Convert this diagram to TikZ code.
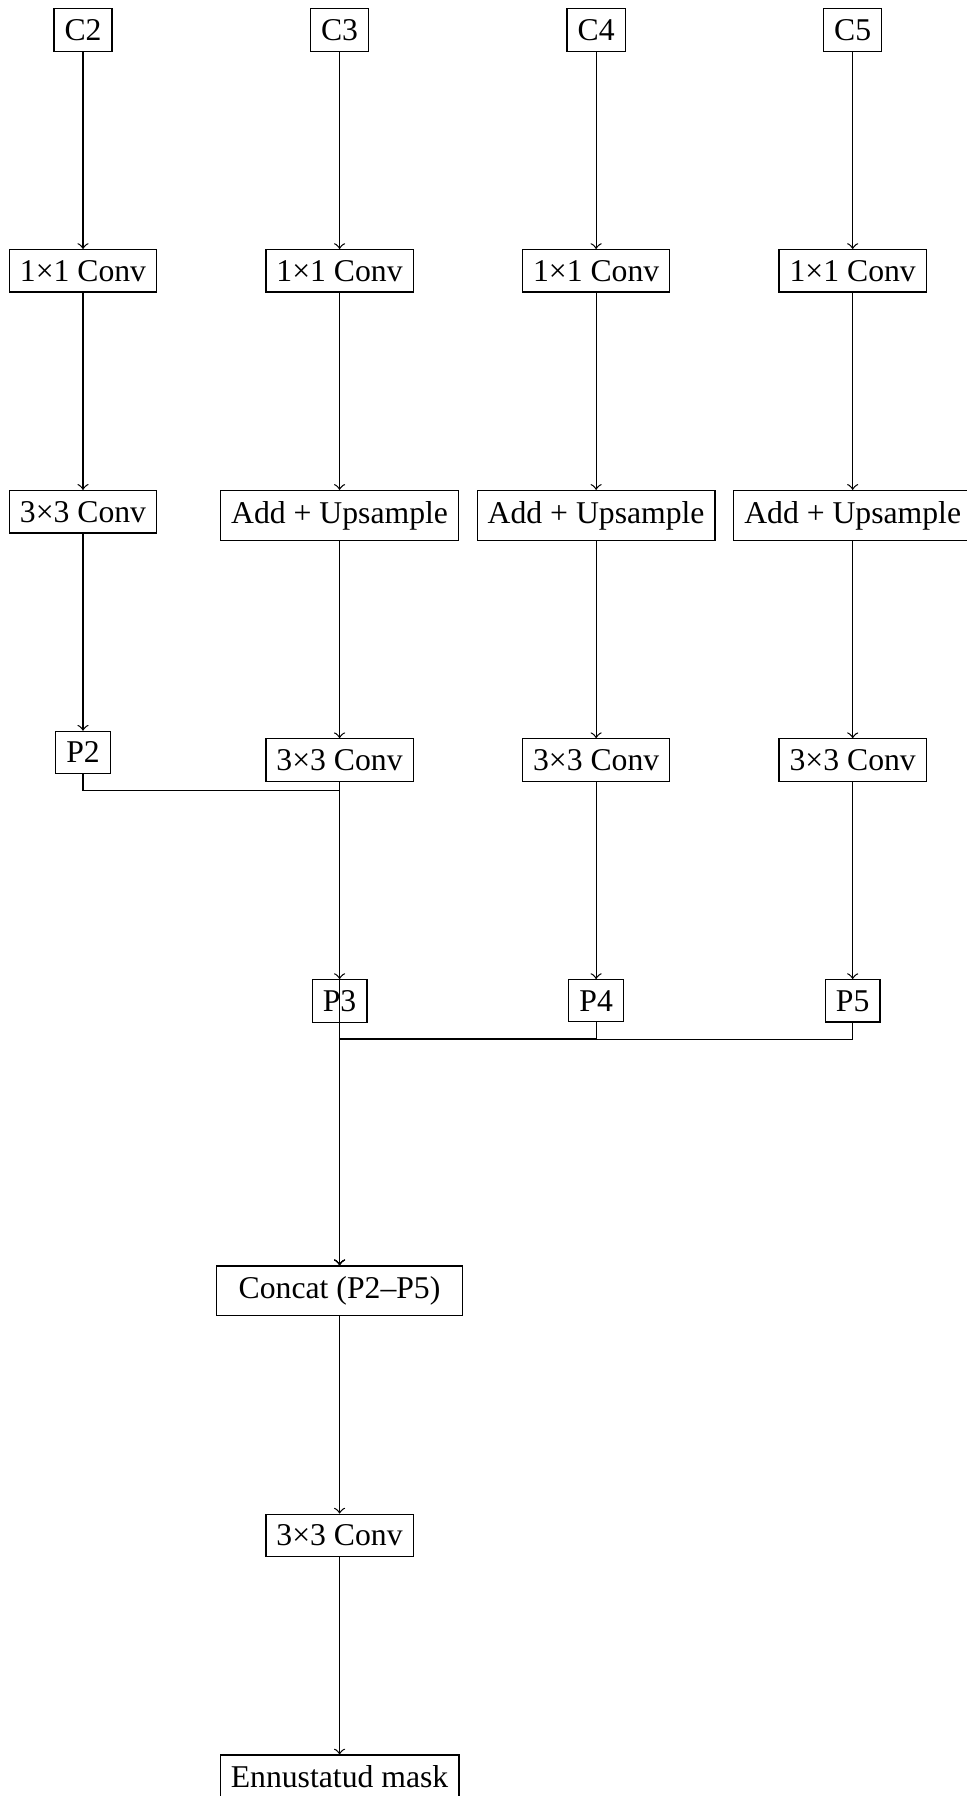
\documentclass[tikz,border=0pt]{standalone}
\usepackage{fontspec}
\setmainfont{Liberation Serif}
\usetikzlibrary{positioning,calc}
\begin{document}
\begin{tikzpicture}[x=0.31546pt, y=-0.31546pt, node distance=62.2pt,
  box/.style={draw, line width=0.4pt},
  link/.style={->, line width=0.4pt}]
\useasboundingbox (0,0) rectangle (966,1796);
% row C
\node[box] (c2) at (83,30) {C2};
\node[box, right=of c2] (c3) {C3};
\node[box, right=of c3] (c4) {C4};
\node[box, right=of c4] (c5) {C5};
% 1x1 conv
\node[box, below=of c2] (a2) {1×1 Conv};
\node[box, below=of c3] (a3) {1×1 Conv};
\node[box, below=of c4] (a4) {1×1 Conv};
\node[box, below=of c5] (a5) {1×1 Conv};
% third row
\node[box, below=of a2] (b2) {3×3 Conv};
\node[box, below=of a3] (b3) {Add + Upsample};
\node[box, below=of a4] (b4) {Add + Upsample};
\node[box, below=of a5] (b5) {Add + Upsample};
% fourth row
\node[box, below=of b2] (p2) {P2};
\node[box, below=of b3] (d3) {3×3 Conv};
\node[box, below=of b4] (d4) {3×3 Conv};
\node[box, below=of b5] (d5) {3×3 Conv};
% P row
\node[box, below=of d3] (p3) {P3};
\node[box, below=of d4] (p4) {P4};
\node[box, below=of d5] (p5) {P5};
% bottom
\node[box, below=76.5pt of p3, minimum width=77.6pt] (cat) {Concat (P2–P5)};
\node[box, below=of cat] (fc) {3×3 Conv};
\node[box, below=of fc] (out) {Ennustatud mask};
% edges
\foreach \i in {2,3,4,5} {
  \draw[link] (c\i) -- (a\i);
  \draw[link] (a\i) -- (b\i);
}
\draw[link] (b2) -- (p2);
\foreach \i in {3,4,5} {
  \draw[link] (b\i) -- (d\i);
  \draw[link] (d\i) -- (p\i);
}
\coordinate (j2) at ($(p2.south)+(0,16.4)$);
\draw[link] (p2.south) -- (j2) -- (j2 -| cat.north) -- (cat.north);
\draw[link] (p3) -- (cat);
\coordinate (j4) at ($(p4.south)+(0,16.6)$);
\draw[link] (p4.south) -- (j4) -- (j4 -| cat.north) -- (cat.north);
\coordinate (j5) at ($(p5.south)+(0,16.6)$);
\draw[link] (p5.south) -- (j5) -- (j5 -| cat.north) -- (cat.north);
\draw[link] (cat) -- (fc);
\draw[link] (fc) -- (out);
\end{tikzpicture}
\end{document}
